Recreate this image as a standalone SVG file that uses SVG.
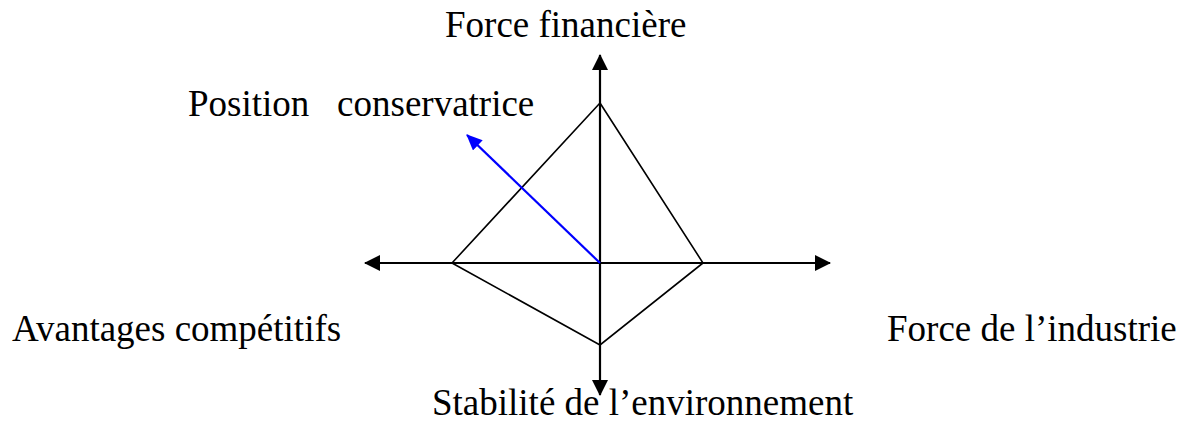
<svg xmlns="http://www.w3.org/2000/svg" width="1185" height="424" viewBox="0 0 1185 424">
<style>
text{font-family:"Liberation Serif","Times New Roman",serif;font-size:37px;fill:#000}
.ax{stroke:#000;stroke-width:2.2;fill:none}
.dm{stroke:#000;stroke-width:1.6;fill:none}
</style>
<defs>
<marker id="ak" markerWidth="16" markerHeight="16" refX="15" refY="8" orient="auto" markerUnits="userSpaceOnUse"><path d="M0,0 L16,8 L0,16 Z" fill="#000"/></marker>
<marker id="ab" markerWidth="16" markerHeight="14" refX="15" refY="7" orient="auto" markerUnits="userSpaceOnUse"><path d="M0,0 L16,7 L0,14 Z" fill="#0000ff"/></marker>
</defs>
<rect width="1185" height="424" fill="#fff"/>
<g id="connectors">
<line class="ax" x1="600" y1="263" x2="600" y2="55" marker-end="url(#ak)"/>
<line class="ax" x1="600" y1="263" x2="600" y2="395" marker-end="url(#ak)"/>
<line class="ax" x1="600" y1="263" x2="365" y2="263" marker-end="url(#ak)"/>
<line class="ax" x1="600" y1="263" x2="830" y2="263" marker-end="url(#ak)"/>
<polygon class="dm" points="600,103 703,263 600,345 452,263"/>
<line x1="600" y1="263" x2="467" y2="135" stroke="#0000ff" stroke-width="2.2" marker-end="url(#ab)"/>
</g>
<g id="label-top"><text x="445" y="37">Force financière</text></g>
<g id="label-position"><text x="188" y="116" xml:space="preserve">Position   conservatrice</text></g>
<g id="label-left"><text x="12" y="341">Avantages compétitifs</text></g>
<g id="label-right"><text x="887" y="341">Force de l’industrie</text></g>
<g id="label-bottom"><text x="432" y="415">Stabilité de l’environnement</text></g>
</svg>
